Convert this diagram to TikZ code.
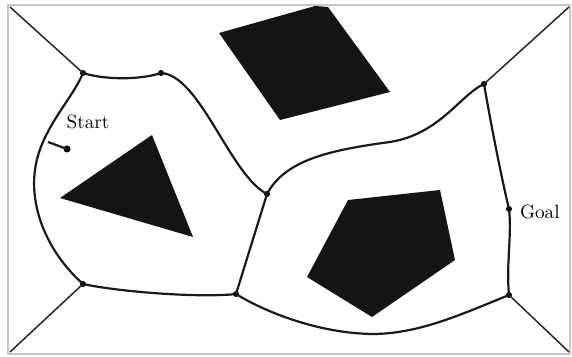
\documentclass[tikz,border=0pt]{standalone}
\usetikzlibrary{positioning}
\tikzset{
  road/.style={line width=1.1pt, black!90},
  spoke/.style={line width=0.75pt, black!85},
  obstacle/.style={fill=black!92},
  vdot/.style={circle, fill=black, inner sep=0pt, minimum size=3pt},
  lbl/.style={font=\fontsize{9.6}{11}\selectfont}
}
\begin{document}
\begin{tikzpicture}[x=0.5pt, y=-0.5pt]
\useasboundingbox (0,0) rectangle (572,357);
% Frame
\draw[gray!45, line width=1.1pt] (8,5) rectangle (570,354);
% Obstacles
\fill[obstacle] (219,33) -- (315,6) -- (328,7) -- (390,92) -- (280,120) -- cycle;
\fill[obstacle] (60,198) -- (152,135) -- (193,237) -- cycle;
\fill[obstacle] (348,200) -- (440,190) -- (455,260) -- (372,317) -- (307,277) -- cycle;
% Voronoi vertices
\node[vdot] (vA) at (83,73) {};
\node[vdot] (vB) at (161,73) {};
\node[vdot] (vC) at (267,194) {};
\node[vdot] (vD) at (484,84) {};
\node[vdot] (vE) at (509,295) {};
\node[vdot] (vF) at (236,294) {};
\node[vdot] (vG) at (83,284) {};
% Corners of the frame
\coordinate (cTL) at (10,7);
\coordinate (cTR) at (569,7);
\coordinate (cBR) at (569,352);
\coordinate (cBL) at (10,352);
% Start and goal
\node[vdot, minimum size=3.5pt] (start) at (67,149) {};
\node[vdot] (goal) at (509,209) {};
\coordinate (sj) at (48,142);
\node[lbl] (startlbl) at (88,122) {Start};
\node[lbl, anchor=west] (goallbl) at (513,212) {Goal};
% Spokes to the corners
\draw[spoke] (cTL) -- (vA.center);
\draw[spoke] (cTR) -- (vD.center);
\draw[spoke] (cBR) -- (vE.center);
\draw[spoke] (cBL) -- (vG.center);
% Roadmap edges
\draw[road] (vA.center) .. controls (105,80) and (140,80) .. (vB.center);
\draw[road] (vB.center) .. controls (200,75) and (230,175) .. (vC.center);
\draw[road] (vC.center) .. controls (285,160) and (330,150) .. (390,142)
  .. controls (440,134) and (460,95) .. (vD.center);
\draw[road] (vD.center) .. controls (492,130) and (502,180) .. (goal.center)
  .. controls (512,235) and (506,265) .. (vE.center);
\draw[road] (vE.center) .. controls (460,315) and (420,333) .. (375,334)
  .. controls (320,334) and (265,312) .. (vF.center);
\draw[road] (vF.center) -- (vC.center);
\draw[road] (vG.center) .. controls (120,292) and (200,298) .. (vF.center);
\draw[road] (vG.center) .. controls (45,250) and (30,205) .. (35,170)
  .. controls (40,130) and (72,100) .. (vA.center);
\draw[road] (sj) -- (start.center);
\end{tikzpicture}
\end{document}
